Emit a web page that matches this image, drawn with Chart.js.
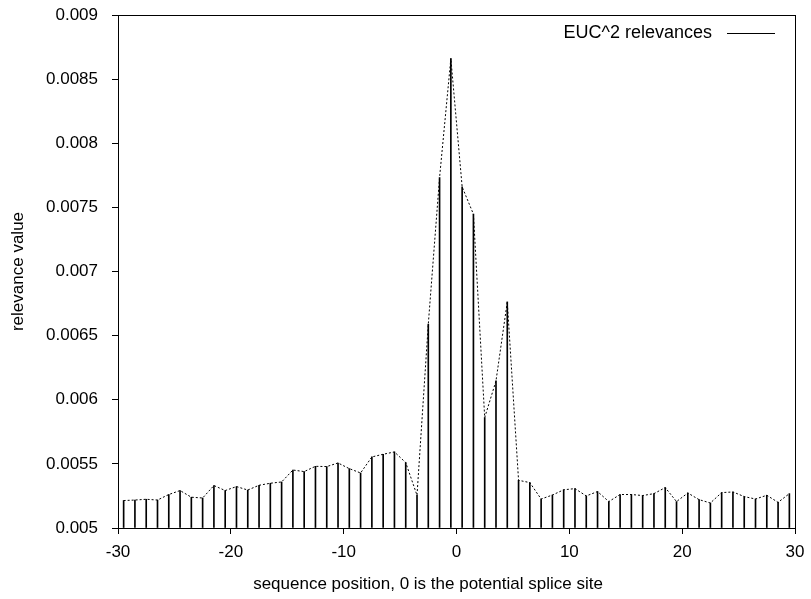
<!DOCTYPE html>
<html>
<head>
<meta charset="utf-8">
<script src="https://cdn.jsdelivr.net/npm/chart.js"></script>
<style>
  html, body { margin: 0; padding: 0; background: #fff; }
  canvas { display: block; }
</style>
</head>
<body>
<canvas id="relChart" width="811" height="599"></canvas>

<script>
  // sequence positions (half-integer offsets around the splice site)
  const positions = [
    -29.5, -28.5, -27.5, -26.5, -25.5, -24.5, -23.5, -22.5, -21.5, -20.5,
    -19.5, -18.5, -17.5, -16.5, -15.5, -14.5, -13.5, -12.5, -11.5, -10.5,
    -9.5, -8.5, -7.5, -6.5, -5.5, -4.5, -3.5, -2.5, -1.5, -0.5,
    0.5, 1.5, 2.5, 3.5, 4.5, 5.5, 6.5, 7.5, 8.5, 9.5,
    10.5, 11.5, 12.5, 13.5, 14.5, 15.5, 16.5, 17.5, 18.5, 19.5,
    20.5, 21.5, 22.5, 23.5, 24.5, 25.5, 26.5, 27.5, 28.5, 29.5
  ];

  // EUC^2 relevance per position
  const relevances = [
    0.005214, 0.005218, 0.005224, 0.005218, 0.005261, 0.005292, 0.005240, 0.005234, 0.005331, 0.005292,
    0.005323, 0.005296, 0.005333, 0.005349, 0.005359, 0.005452, 0.005440, 0.005481, 0.005479, 0.005507,
    0.005463, 0.005429, 0.005554, 0.005575, 0.005593, 0.005510, 0.005255, 0.006589, 0.007733, 0.008661,
    0.007660, 0.007447, 0.005861, 0.006147, 0.006763, 0.005372, 0.005354, 0.005226, 0.005257, 0.005298,
    0.005307, 0.005250, 0.005284, 0.005206, 0.005261, 0.005261, 0.005253, 0.005268, 0.005315, 0.005206,
    0.005273, 0.005221, 0.005195, 0.005276, 0.005281, 0.005245, 0.005226, 0.005255, 0.005200, 0.005268
  ];

  const xTicks = [-30, -20, -10, 0, 10, 20, 30];
  const yTicks = [0.005, 0.0055, 0.006, 0.0065, 0.007, 0.0075, 0.008, 0.0085, 0.009];

  const seriesLabel = 'EUC^2 relevances';
  const xTitle = 'sequence position, 0 is the potential splice site';
  const fontFamily = '"Liberation Sans", Arial, Helvetica, sans-serif';

  const points = positions.map((x, i) => ({ x: x, y: relevances[i] }));

  // box around the plot, gnuplot style key (text then line sample), x label
  const framePlugin = {
    id: 'frame',
    afterDraw(chart) {
      const { ctx, chartArea: a } = chart;
      ctx.save();
      ctx.strokeStyle = '#000';
      ctx.lineWidth = 1;
      ctx.strokeRect(a.left + 0.5, a.top + 0.5, a.right - a.left, a.bottom - a.top);

      ctx.fillStyle = '#000';
      ctx.textBaseline = 'middle';

      ctx.font = '18px ' + fontFamily;
      ctx.textAlign = 'right';
      const ky = a.top + 18;
      ctx.fillText(seriesLabel, a.right - 83, ky);
      ctx.beginPath();
      ctx.moveTo(a.right - 68, ky + 0.5);
      ctx.lineTo(a.right - 20, ky + 0.5);
      ctx.stroke();

      ctx.font = '17px ' + fontFamily;
      ctx.textAlign = 'center';
      ctx.fillText(xTitle, 428, 584);
      ctx.restore();
    }
  };

  new Chart(document.getElementById('relChart'), {
    type: 'bar',
    data: {
      datasets: [
        {
          type: 'line',
          label: seriesLabel,
          data: points,
          borderColor: '#000',
          borderWidth: 1,
          borderDash: [2, 2],
          pointRadius: 0,
          tension: 0,
          fill: false
        },
        {
          type: 'bar',
          label: 'impulses',
          data: points,
          base: 0.005,
          backgroundColor: '#000',
          borderWidth: 0,
          barThickness: 1
        }
      ]
    },
    options: {
      responsive: false,
      animation: false,
      devicePixelRatio: 1,
      layout: { padding: { top: 15, right: 16, left: 0, bottom: 0 } },
      plugins: {
        legend: { display: false },
        tooltip: { enabled: false }
      },
      scales: {
        x: {
          type: 'linear',
          min: -30,
          max: 30,
          offset: false,
          afterFit: s => { s.height = 71; s.paddingLeft = 0; s.paddingRight = 0; },
          afterBuildTicks: s => { s.ticks = xTicks.map(v => ({ value: v })); },
          ticks: {
            color: '#000',
            font: { family: fontFamily, size: 17 },
            padding: 8,
            maxRotation: 0,
            callback: v => String(v)
          },
          grid: {
            offset: false,
            drawOnChartArea: false,
            color: '#000',
            tickLength: 6
          },
          border: { color: '#000' }
        },
        y: {
          min: 0.005,
          max: 0.009,
          afterFit: s => { s.width = 118; s.paddingTop = 0; s.paddingBottom = 0; },
          afterBuildTicks: s => { s.ticks = yTicks.map(v => ({ value: v })); },
          ticks: {
            color: '#000',
            font: { family: fontFamily, size: 17 },
            padding: 14,
            callback: v => String(parseFloat(v.toFixed(4)))
          },
          grid: {
            drawOnChartArea: false,
            color: '#000',
            tickLength: 6
          },
          border: { color: '#000' },
          title: {
            display: true,
            text: 'relevance value',
            color: '#000',
            font: { family: fontFamily, size: 17 },
            padding: { top: 8, bottom: 0 }
          }
        }
      }
    },
    plugins: [framePlugin]
  });
</script>
</body>
</html>
